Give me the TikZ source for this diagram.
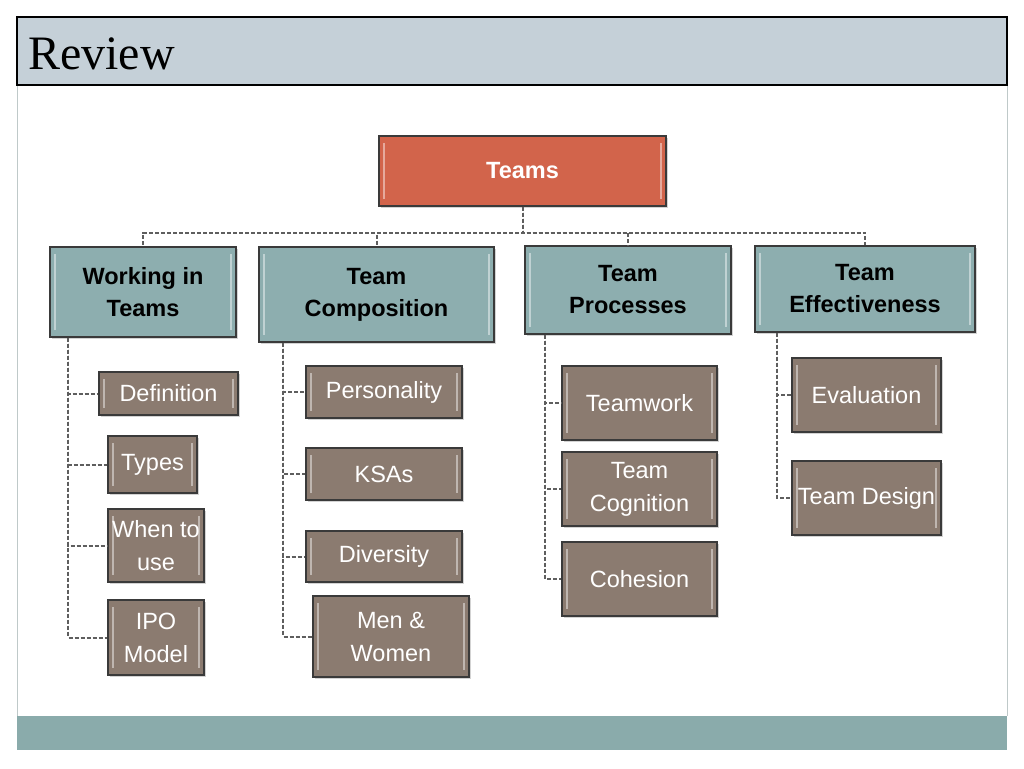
\documentclass[tikz,border=0pt]{standalone}
\usepackage{fontspec}
\setmainfont{Liberation Sans}
\newfontfamily\titlefont{Liberation Serif}
\usetikzlibrary{shadows}

\definecolor{headfill}{HTML}{C5D0D8}
\definecolor{rootfill}{HTML}{D2644B}
\definecolor{topicfill}{HTML}{8DAEAF}
\definecolor{leaffill}{HTML}{8B7B70}
\definecolor{footfill}{HTML}{8AABAB}
\definecolor{boxline}{HTML}{3A3A3A}
\definecolor{linkgrey}{HTML}{5E5E5E}
\definecolor{frameline}{HTML}{BFC9C9}

\tikzset{
  box/.style={draw=boxline, line width=1.2pt, align=center, inner sep=0pt,
    drop shadow={shadow xshift=1.5pt, shadow yshift=-1.5pt, opacity=0.35},
    path picture={
      \draw[white, opacity=0.45, line width=1.5pt]
        ([xshift=5pt,yshift=-7pt]path picture bounding box.north west) --
        ([xshift=5pt,yshift=7pt]path picture bounding box.south west)
        ([xshift=-5pt,yshift=-7pt]path picture bounding box.north east) --
        ([xshift=-5pt,yshift=7pt]path picture bounding box.south east);
    }},
  rootbox/.style={box, fill=rootfill, text=white,
    font=\bfseries\fontsize{23.5}{32}\selectfont},
  topicbox/.style={box, fill=topicfill, text=black,
    font=\bfseries\fontsize{23.5}{32}\selectfont},
  leafbox/.style={box, fill=leaffill, text=white,
    font=\fontsize{23.5}{33}\selectfont},
  link/.style={draw=linkgrey, line width=2pt, dash pattern=on 4pt off 2pt}
}

\begin{document}
\begin{tikzpicture}[x=1pt, y=-1pt]
  \useasboundingbox (0,0) rectangle (1024,768);

  % slide frame
  \draw[frameline, line width=1pt] (17,85) -- (17,716) (1007,85) -- (1007,716);
  \fill[footfill] (17,716) rectangle (1007,750);
  \draw[fill=headfill, line width=2.5pt] (17,17) rectangle (1007,85);
  \path (28,70) node[anchor=base west, inner sep=0pt] (title)
    {\titlefont\fontsize{48}{48}\selectfont Review};

  % root and topics
  \path (522.5,171) node[rootbox, minimum width=287, minimum height=70] (teams) {Teams};
  \path (143,292) node[topicbox, minimum width=186, minimum height=90] (work) {Working in\\Teams};
  \path (376.5,294.5) node[topicbox, minimum width=235, minimum height=95] (comp) {Team\\Composition};
  \path (628,290) node[topicbox, minimum width=206, minimum height=88] (proc) {Team\\Processes};
  \path (865,289) node[topicbox, minimum width=220, minimum height=86] (eff) {Team\\Effectiveness};

  % working in teams
  \path (168.5,393.5) node[leafbox, minimum width=139, minimum height=43] (defn) {Definition};
  \path (152.5,464.5) node[leafbox, minimum width=89, minimum height=57] (types) {Types};
  \path (156,545.5) node[leafbox, minimum width=96, minimum height=73] (when) {When to\\use};
  \path (156,637.5) node[leafbox, minimum width=96, minimum height=75] (ipo) {IPO\\Model};

  % team composition
  \path (384,392) node[leafbox, minimum width=156, minimum height=52] (pers) {Personality};
  \path (384,474) node[leafbox, minimum width=156, minimum height=52] (ksa) {KSAs};
  \path (384,556.5) node[leafbox, minimum width=156, minimum height=51] (div) {Diversity};
  \path (391,636.5) node[leafbox, minimum width=156, minimum height=81] (men) {Men \&\\Women};

  % team processes
  \path (639.5,403) node[leafbox, minimum width=155, minimum height=74] (twork) {Teamwork};
  \path (639.5,489) node[leafbox, minimum width=155, minimum height=74] (cogn) {Team\\Cognition};
  \path (639.5,579) node[leafbox, minimum width=155, minimum height=74] (cohe) {Cohesion};

  % team effectiveness
  \path (866.5,395) node[leafbox, minimum width=149, minimum height=74] (eval) {Evaluation};
  \path (866.5,498) node[leafbox, minimum width=149, minimum height=74] (design) {Team Design};

  % connectors
  \foreach \t in {work,comp,proc,eff}
    \draw[link] (teams.south) -- ++(0,26) -| (\t.north);
  \foreach \l in {defn,types,when,ipo}
    \draw[link] ([xshift=19pt]work.south west) |- (\l.west);
  \foreach \l in {pers,ksa,div,men}
    \draw[link] ([xshift=25pt]comp.south west) |- (\l.west);
  \foreach \l in {twork,cogn,cohe}
    \draw[link] ([xshift=21pt]proc.south west) |- (\l.west);
  \foreach \l in {eval,design}
    \draw[link] ([xshift=23pt]eff.south west) |- (\l.west);
\end{tikzpicture}
\end{document}
